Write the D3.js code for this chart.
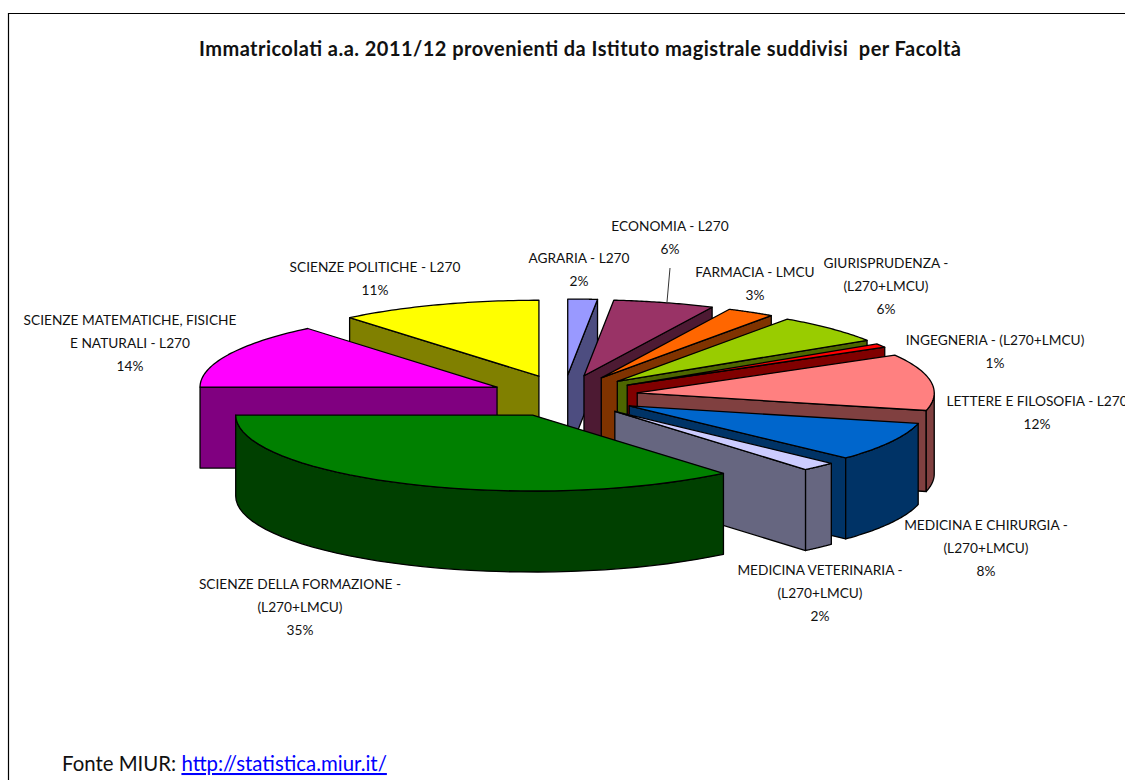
<!DOCTYPE html>
<html><head><meta charset="utf-8">
<script src="https://cdnjs.cloudflare.com/ajax/libs/d3/7.8.5/d3.min.js"></script>
<style>html,body{margin:0;padding:0;background:#fff;overflow:hidden}svg{display:block}
text{font-family:Lato,Carlito,sans-serif;fill:#111}</style></head><body>
<svg id="c" width="1125" height="780"></svg>
<script>
const title = "Immatricolati a.a. 2011/12 provenienti da Istituto magistrale suddivisi  per Facoltà";
const categories = ["AGRARIA - L270","ECONOMIA - L270","FARMACIA - LMCU","GIURISPRUDENZA - (L270+LMCU)","INGEGNERIA - (L270+LMCU)","LETTERE E FILOSOFIA - L270","MEDICINA E CHIRURGIA - (L270+LMCU)","MEDICINA VETERINARIA - (L270+LMCU)","SCIENZE DELLA FORMAZIONE - (L270+LMCU)","SCIENZE MATEMATICHE, FISICHE E NATURALI - L270","SCIENZE POLITICHE - L270"];
const shares = [1.6,5.5,2.6,6.2,0.8,12,8.3,1.9,36.1,14,11];
const percentLabels = ["2%","6%","3%","6%","1%","12%","8%","2%","35%","14%","11%"];
const labelLines = [["AGRARIA - L270"],["ECONOMIA - L270"],["FARMACIA - LMCU"],["GIURISPRUDENZA -","(L270+LMCU)"],["INGEGNERIA - (L270+LMCU)"],["LETTERE E FILOSOFIA - L270"],["MEDICINA E CHIRURGIA -","(L270+LMCU)"],["MEDICINA VETERINARIA -","(L270+LMCU)"],["SCIENZE DELLA FORMAZIONE -","(L270+LMCU)"],["SCIENZE MATEMATICHE, FISICHE","E NATURALI - L270"],["SCIENZE POLITICHE - L270"]];
const topColors = ["#9999FF","#993366","#FF6600","#99CC00","#FF0000","#FF8080","#0066CC","#CCCCFF","#008000","#FF00FF","#FFFF00"];
const sideColors = ["#4D4D80","#4D1A33","#803300","#4D6600","#800000","#804040","#003366","#666680","#004000","#800080","#808000"];

// layout
const labelAnchors = [[579,258],[670,226],[755,272],[886,263],[995,340],[1037,401],[986,525],[820,570],[300,584],[130,320],[375,267]];
const labelStep = 23.3;
const cx=564, cy=396, rx=297, ry=76, depth=81, explodeX=74, explodeY=21;

const svg = d3.select("#c");
svg.append("path").attr("d","M1125.5,13.5H8.5V780.5").attr("fill","none").attr("stroke","#000").attr("stroke-width",1.2);
svg.append("text").attr("x",199).attr("y",56).attr("font-size",20).attr("font-weight",700).attr("textLength",762).attr("lengthAdjust","spacing").style("white-space","pre").text(title);

const pie = d3.pie().sort(null).startAngle(0).endAngle(2*Math.PI);
const slices = pie(shares).map((d,i)=>{
  const mid=(d.startAngle+d.endAngle)/2;
  return {i,a0:d.startAngle,a1:d.endAngle,mid,
    tx:cx+explodeX*Math.sin(mid),ty:cy-explodeY*Math.cos(mid)};
});
const line=d3.line();
const outer=(s,a,dz=0)=>[s.tx+rx*Math.sin(a),s.ty-ry*Math.cos(a)+dz];
const arcPts=(s,a,b,dz=0)=>d3.range(0,41).map(k=>outer(s,a+(b-a)*k/40,dz));
const poly=(pts,fill)=>g.append("path").attr("d",line(pts)+"Z").attr("fill",fill).attr("stroke","#000").attr("stroke-width",1.3).attr("stroke-linejoin","round");
const g=svg.append("g");

slices.slice().sort((p,q)=>Math.cos(q.mid)-Math.cos(p.mid)).forEach(s=>{
  const side=sideColors[s.i], top=topColors[s.i], tip=[s.tx,s.ty], low=[s.tx,s.ty+depth];
  if(Math.sin(s.a0)<-1e-6) poly([tip,outer(s,s.a0),outer(s,s.a0,depth),low],side);
  if(Math.sin(s.a1)>1e-6) poly([tip,outer(s,s.a1),outer(s,s.a1,depth),low],side);
  const f0=Math.max(s.a0,Math.PI/2), f1=Math.min(s.a1,1.5*Math.PI);
  if(f1>f0) poly(arcPts(s,f0,f1).concat(arcPts(s,f0,f1,depth).reverse()),side);
  poly([tip].concat(arcPts(s,s.a0,s.a1)),top);
});

svg.append("path").attr("d",line([[670,268],[667,302]])).attr("stroke","#000").attr("stroke-width",0.8).attr("fill","none");

labelLines.forEach((ls,i)=>{
  const [x,y]=labelAnchors[i];
  ls.concat(percentLabels[i]).forEach((t,k)=>{
    svg.append("text").attr("x",x).attr("y",y+k*labelStep+4.5).attr("text-anchor","middle").attr("font-size",13.7).text(t);
  });
});

const src=svg.append("text").attr("x",62).attr("y",771).attr("font-size",20.4);
src.append("tspan").text("Fonte MIUR: ");
src.append("tspan").text("http://statistica.miur.it/").style("fill","#0000FF").attr("text-decoration","underline");
</script></body></html>
